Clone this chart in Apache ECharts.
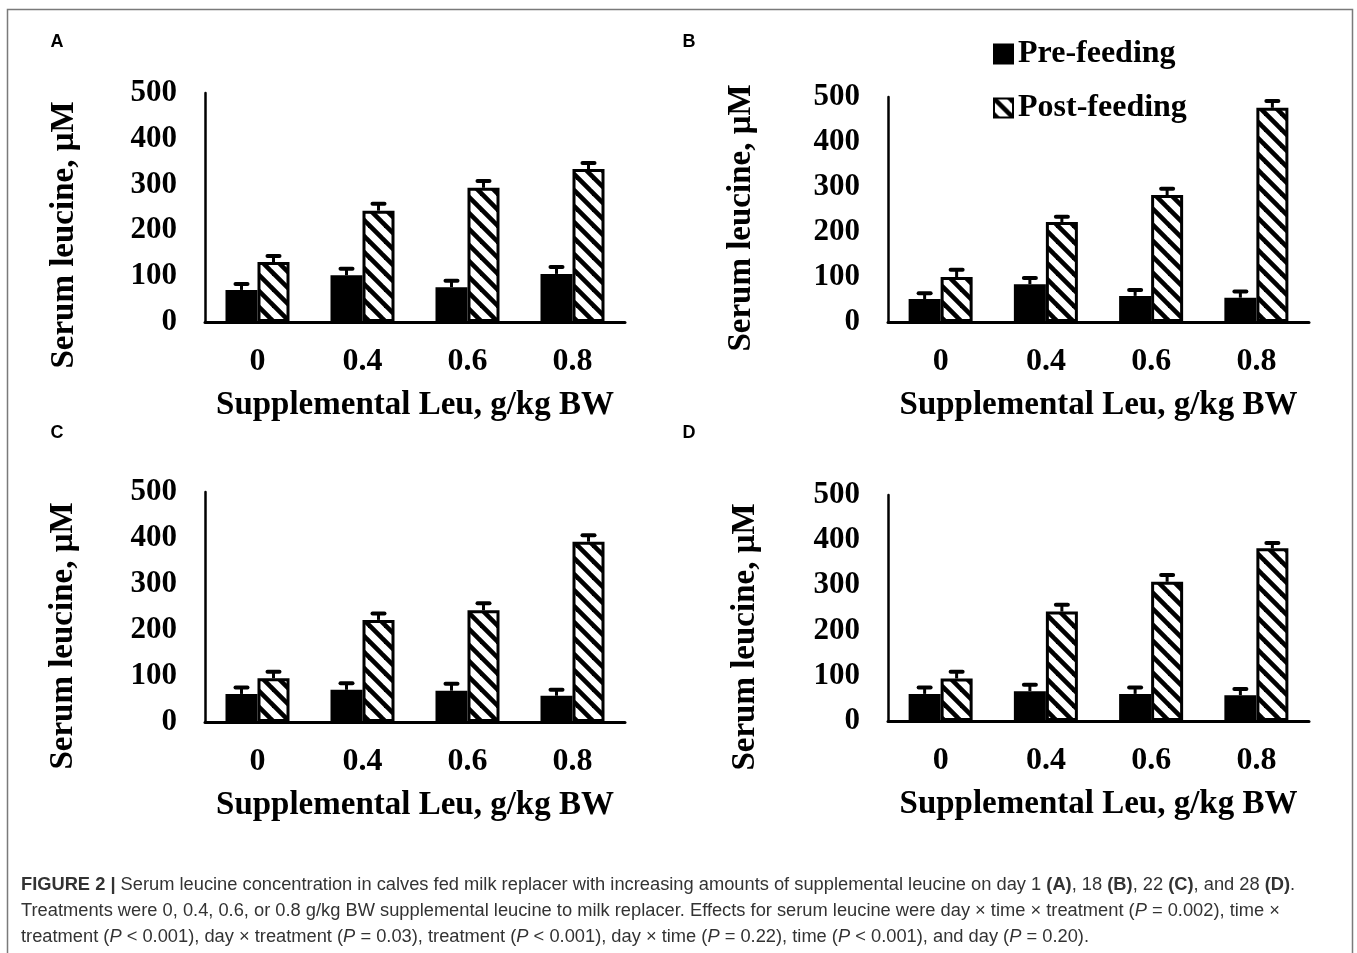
<!DOCTYPE html>
<html>
<head>
<meta charset="utf-8">
<script src="https://cdn.jsdelivr.net/npm/echarts@6/dist/echarts.min.js"></script>
<style>
html,body{margin:0;padding:0;background:#fff;}
#chart{width:1357px;height:953px;}
</style>
</head>
<body>
<div id="chart"></div>
<script>
// ---- data ----
const categories = ['0', '0.4', '0.6', '0.8'];
const yTicks = [0, 100, 200, 300, 400, 500];
const panelLetters = ['A', 'B', 'C', 'D'];

const preA = [70, 102, 76, 105];
const preAErr = [13, 14, 14, 15];
const postA = [131, 243, 293, 334];
const postAErr = [13, 15, 15, 13];

const preB = [51, 84, 58, 54];
const preBErr = [13, 14, 13, 14];
const postB = [100, 222, 282, 476];
const postBErr = [16, 12, 14, 15];

const preC = [61, 70, 68, 57];
const preCErr = [14, 14, 15, 13];
const postC = [95, 222, 243, 392];
const postCErr = [14, 14, 15, 14];

const preD = [60, 66, 60, 57];
const preDErr = [14, 14, 14, 14];
const postD = [94, 242, 308, 382];
const postDErr = [15, 15, 15, 12];

const seriesNames = ['Pre-feeding', 'Post-feeding'];
const xTitle = 'Supplemental Leu, g/kg BW';
const yTitle = 'Serum leucine, μM';

// ---- layout / style ----
const panels = [
  {pre: preA, preErr: preAErr, post: postA, postErr: postAErr, grid: {left: 205, top: 93, width: 420, height: 229}, yName: [64, 235], letter: [57, 42]},
  {pre: preB, preErr: preBErr, post: postB, postErr: postBErr, grid: {left: 888, top: 97, width: 421, height: 225}, yName: [741, 218], letter: [689, 42]},
  {pre: preC, preErr: preCErr, post: postC, postErr: postCErr, grid: {left: 205, top: 492, width: 420, height: 230}, yName: [63, 636], letter: [57, 433]},
  {pre: preD, preErr: preDErr, post: postD, postErr: postDErr, grid: {left: 888, top: 495, width: 421, height: 226}, yName: [745, 637], letter: [689, 433]}
];

const serif = "'Liberation Serif', 'Times New Roman', serif";
const sans = "'Liberation Sans', Arial, sans-serif";
const BAR_W = 32;

// hatch pattern
const P = 16;
const cv = document.createElement('canvas');
cv.width = P; cv.height = P;
const ctx = cv.getContext('2d');
ctx.fillStyle = '#fff';
ctx.fillRect(0, 0, P, P);
ctx.strokeStyle = '#000';
ctx.lineWidth = 4.6;
for (const c of [-P, 0, P]) {
  ctx.beginPath();
  ctx.moveTo(-2, c - 2);
  ctx.lineTo(P + 2, P + c + 2);
  ctx.stroke();
}
const hatch = {image: cv, repeat: 'repeat'};

function errRender(offset) {
  return function (params, api) {
    const cat = api.value(0);
    const v = api.value(1);
    const e = api.value(2);
    const p0 = api.coord([cat, v]);
    const p1 = api.coord([cat, v + e]);
    const x = p0[0] + offset;
    return {
      type: 'group',
      children: [
        {type: 'line', shape: {x1: x, y1: p0[1], x2: x, y2: p1[1]}, style: {stroke: '#000', lineWidth: 3}},
        {type: 'line', shape: {x1: x - 6, y1: p1[1], x2: x + 6, y2: p1[1]}, style: {stroke: '#000', lineWidth: 4, lineCap: 'round'}}
      ]
    };
  };
}

const grids = [], xAxes = [], yAxes = [], series = [], graphics = [];

panels.forEach((p, i) => {
  grids.push(Object.assign({}, p.grid));
  xAxes.push({
    type: 'category', gridIndex: i, data: categories,
    axisLine: {show: true, lineStyle: {color: '#000', width: 3}},
    axisTick: {show: false},
    axisLabel: {color: '#000', fontFamily: serif, fontWeight: 'bold', fontSize: 32, margin: 24},
    name: xTitle, nameLocation: 'middle', nameGap: 67,
    nameTextStyle: {color: '#000', fontFamily: serif, fontWeight: 'bold', fontSize: 33}
  });
  yAxes.push({
    type: 'value', gridIndex: i, min: yTicks[0], max: yTicks[yTicks.length - 1], interval: yTicks[1] - yTicks[0],
    axisLine: {show: true, lineStyle: {color: '#000', width: 2.5}},
    axisTick: {show: false},
    splitLine: {show: false},
    axisLabel: {color: '#000', fontFamily: serif, fontWeight: 'bold', fontSize: 31, margin: 28}
  });
  series.push({
    type: 'bar', name: seriesNames[0], xAxisIndex: i, yAxisIndex: i, data: p.pre,
    barWidth: BAR_W, barGap: '0%',
    itemStyle: {color: '#000', borderColor: '#000', borderWidth: 2},
    emphasis: {disabled: true}, z: 2
  });
  series.push({
    type: 'bar', name: seriesNames[1], xAxisIndex: i, yAxisIndex: i, data: p.post,
    barWidth: BAR_W, barGap: '0%',
    itemStyle: {color: hatch, borderColor: '#000', borderWidth: 3},
    emphasis: {disabled: true}, z: 2
  });
  series.push({
    type: 'custom', xAxisIndex: i, yAxisIndex: i,
    data: p.pre.map((v, k) => [k, v, p.preErr[k]]),
    renderItem: errRender(-BAR_W / 2), z: 3, silent: true
  });
  series.push({
    type: 'custom', xAxisIndex: i, yAxisIndex: i,
    data: p.post.map((v, k) => [k, v, p.postErr[k]]),
    renderItem: errRender(BAR_W / 2), z: 3, silent: true
  });
  graphics.push({
    type: 'text', x: p.yName[0], y: p.yName[1], rotation: Math.PI / 2,
    style: {text: yTitle, fill: '#000', font: "bold 33px " + serif, align: 'center', verticalAlign: 'middle'}
  });
  graphics.push({
    type: 'text', x: p.letter[0], y: p.letter[1],
    style: {text: panelLetters[i], fill: '#000', font: "bold 18px " + sans, align: 'center', verticalAlign: 'middle'}
  });
});

// frame
graphics.push({
  type: 'rect', shape: {x: 7.5, y: 9.5, width: 1345, height: 970},
  style: {fill: 'none', stroke: '#7a7a7a', lineWidth: 1.5}, silent: true
});

// caption
const capLines = [
  '{b|FIGURE 2 |} Serum leucine concentration in calves fed milk replacer with increasing amounts of supplemental leucine on day 1 {b|(A)}, 18 {b|(B)}, 22 {b|(C)}, and 28 {b|(D)}.',
  'Treatments were 0, 0.4, 0.6, or 0.8 g/kg BW supplemental leucine to milk replacer. Effects for serum leucine were day × time × treatment ({i|P} = 0.002), time ×',
  'treatment ({i|P} < 0.001), day × treatment ({i|P} = 0.03), treatment ({i|P} < 0.001), day × time ({i|P} = 0.22), time ({i|P} < 0.001), and day ({i|P} = 0.20).'
];
const capY = [885, 911, 937];
const CAP_FS = 18.3;
capLines.forEach((t, k) => {
  graphics.push({
    type: 'text', x: 21, y: capY[k],
    style: {
      text: t, fill: '#333', fontFamily: sans, fontSize: CAP_FS, verticalAlign: 'middle', align: 'left',
      rich: {
        b: {fontWeight: 'bold', fontFamily: sans, fontSize: CAP_FS, fill: '#333'},
        i: {fontStyle: 'italic', fontFamily: sans, fontSize: CAP_FS, fill: '#333'}
      }
    }
  });
});

const chart = echarts.init(document.getElementById('chart'), null, {renderer: 'canvas'});
chart.setOption({
  animation: false,
  backgroundColor: '#fff',
  grid: grids,
  xAxis: xAxes,
  yAxis: yAxes,
  legend: {
    data: seriesNames, orient: 'vertical', left: 988, top: 33,
    itemWidth: 19, itemHeight: 19, itemGap: 22, icon: 'rect', selectedMode: false,
    textStyle: {color: '#000', fontFamily: serif, fontWeight: 'bold', fontSize: 32}
  },
  series: series,
  graphic: graphics
});
</script>
</body>
</html>
